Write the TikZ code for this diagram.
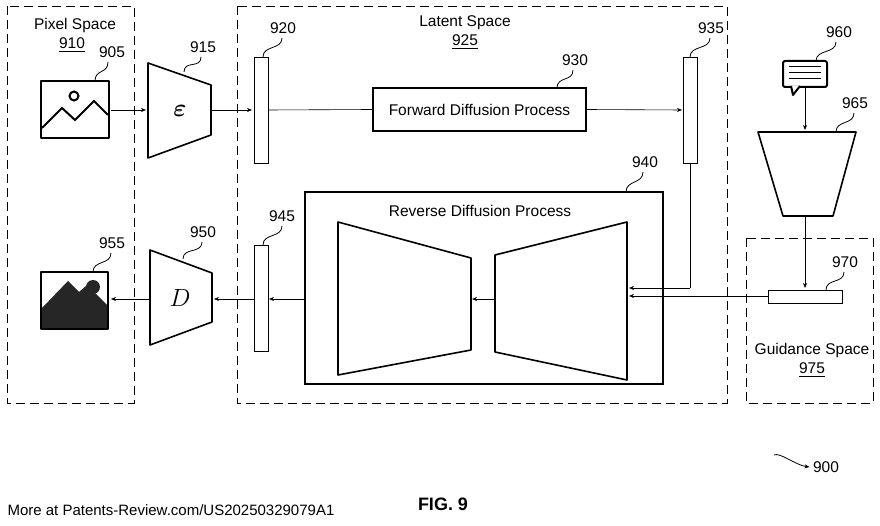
\documentclass[tikz,border=0pt]{standalone}
\usepackage{amsmath}
\usepackage{fontspec}
\setmainfont{Liberation Sans}
\usetikzlibrary{arrows.meta}
\tikzset{
  space/.style={dashed, dash pattern=on 9pt off 5pt, line width=0.8pt},
  bar/.style={draw, line width=0.8pt},
  part/.style={draw, line width=1.6pt, line join=round},
  flow/.style={-{Stealth[length=5pt,width=4pt]}, line width=0.6pt},
  num/.style={font=\fontsize{15.5}{18}\selectfont},
}
\newcommand{\leader}[2]{\draw[line width=0.8pt] #1 .. controls +(0,-12) and +(0,12) .. #2;}
\begin{document}
\begin{tikzpicture}[x=1pt,y=-1pt]
\useasboundingbox (0,0) rectangle (880,526);
% spaces
\draw[space] (7,6) rectangle (134,403);
\draw[space] (237,6) rectangle (727,403);
\draw[space] (746,238) rectangle (873,403);
\node[num] (pixlbl) at (75,25) {Pixel Space};
\node[num] (pixnum) at (72,45) {\underline{910}};
\node[num] (latlbl) at (465,23) {Latent Space};
\node[num] (latnum) at (465,42) {\underline{925}};
\node[num] (guilbl) at (812,350) {Guidance Space};
\node[num] (guinum) at (812,370) {\underline{975}};

% input image
\draw[part, line width=2.6pt] (41,81) rectangle (109,138);
\draw[line width=2pt] (42,128) -- (62,108) -- (75,120) -- (94,101) -- (108,115);
\draw[line width=2pt] (74,96) circle (4.5);
% encoder
\draw[part] (148,63) -- (211,85) -- (211,135) -- (148,158) -- cycle;
\node (enc) at (180,111) {\fontsize{44}{44}\selectfont$\boldsymbol{\varepsilon}$};
% bars
\draw[bar] (254,57) rectangle (268,163);
\draw[bar] (683,57) rectangle (697,163);
\draw[bar] (254,245) rectangle (268,351);
\draw[bar] (768,290) rectangle (842,303);
% forward diffusion
\node[draw, line width=1.6pt, minimum width=213pt, minimum height=43pt, num] (fdp) at (479.5,109.5) {Forward Diffusion Process};
\draw[flow] (111,110) -- (146,110);
\draw[flow] (211,110) -- (252,110);
\draw[line width=0.6pt] (268,110) -- (fdp.west);
\draw[flow] (fdp.east) -- (682,110);
% reverse diffusion
\draw[line width=1.2pt] (305,192) rectangle (663,384);
\node[num] (rdp) at (480,211) {Reverse Diffusion Process};
\draw[part] (338,222) -- (471,258) -- (471,350) -- (338,375) -- cycle;
\draw[part] (495,255) -- (627,222) -- (627,380) -- (495,352) -- cycle;
\draw[flow] (495,299) -- (472,299);
\draw[flow] (305,299) -- (269,299);
\draw[line width=0.6pt] (690,163) -- (690,288);
\draw[flow] (690,288) -- (629,288);
\draw[flow] (768,296) -- (629,296);
% decoder
\draw[part] (150,250) -- (212,273) -- (212,322) -- (150,345) -- cycle;
\node (dec) at (180,298) {\fontsize{32}{32}\selectfont$D$};
\draw[flow] (254,299) -- (214,299);
\draw[flow] (150,299) -- (111,299);
% output image
\draw[part, line width=2.4pt, fill=black!85] (41,272) rectangle (108,329);
\fill[white] (42,273) rectangle (107,318);
\fill[black!85] (42,318) -- (42,308) -- (68,281) -- (79,292) -- (87,285) -- (107,305) -- (107,318) -- cycle;
\fill[black!85] (93,287) circle (7);
% guidance
\draw[part, line width=2pt, rounded corners=2pt] (783,61) rectangle (827,87);
\draw[part, line width=2pt, fill=white] (791,86) -- (793,95) -- (800,86);
\foreach \yy in {67,73,79} \draw[line width=1pt] (789,\yy) -- (821,\yy);
\draw[flow] (805,88) -- (805,130);
\draw[part] (758,132) -- (856,132) -- (833,216) -- (783,216) -- cycle;
\draw[flow] (805,216) -- (805,288);
% leaders and numbers
\node[num] (n905) at (112,52) {905}; \leader{(95,81)}{(108,62)}
\node[num] (n915) at (203,47) {915}; \leader{(184,72)}{(201,57)}
\node[num] (n920) at (283,28) {920}; \leader{(263,57)}{(282,38)}
\node[num] (n930) at (575,60) {930}; \leader{(557,88)}{(573,70)}
\node[num] (n935) at (711,28) {935}; \leader{(690,57)}{(710,38)}
\node[num] (n940) at (645,162) {940}; \leader{(626,192)}{(643,172)}
\node[num] (n945) at (282,216) {945}; \leader{(263,245)}{(282,226)}
\node[num] (n950) at (203,232) {950}; \leader{(183,259)}{(202,242)}
\node[num] (n955) at (112,243) {955}; \leader{(93,272)}{(111,253)}
\node[num] (n960) at (839,32) {960}; \leader{(816,61)}{(836,42)}
\node[num] (n965) at (855,103) {965}; \leader{(836,132)}{(854,113)}
\node[num] (n970) at (845,262) {970}; \leader{(826,290)}{(844,272)}
\node[num] (n900) at (826,467) {900};
\coordinate (c900) at (774,455);
\draw[flow, line width=0.8pt] (c900) .. controls (780,452) and (795,465) .. (n900.west);
\node[font=\fontsize{18}{20}\selectfont\bfseries] (fig) at (443,504) {FIG. 9};
\node[anchor=west, font=\fontsize{15}{18}\selectfont] (foot) at (4,510) {More at Patents-Review.com/US20250329079A1};
\end{tikzpicture}
\end{document}
